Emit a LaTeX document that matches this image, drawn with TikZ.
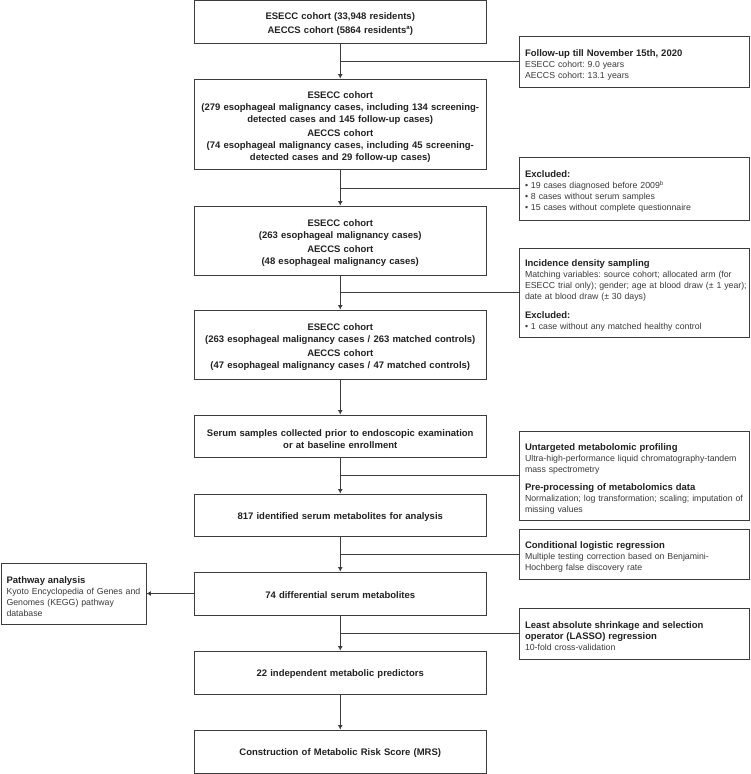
\documentclass[tikz,border=0pt]{standalone}
\usepackage{fontspec}
\setmainfont{Liberation Sans}
\usetikzlibrary{arrows.meta}
\definecolor{linec}{HTML}{3C3C3C}
\definecolor{txtb}{HTML}{222222}
\definecolor{txtr}{HTML}{3A3A3A}
\tikzset{
  bxbase/.style={draw=linec,line width=0.9pt,fill=white,inner sep=0pt,align=center,text=txtb,
    text width=288pt,minimum width=292pt,
    font=\fontsize{9.5}{12}\selectfont\bfseries},
  bx/.style={bxbase,execute at begin node={\frenchspacing\rule{0pt}{12.5pt}}},
  bxtop/.style={bxbase,execute at begin node={\frenchspacing\rule{0pt}{11pt}}},
  bxone/.style={bxbase,execute at begin node={\frenchspacing\rule{0pt}{10.5pt}}},
  sidebx/.style={draw=linec,line width=0.9pt,fill=white,inner sep=0pt,align=left,text=txtr,
    font=\fontsize{8.75}{11}\selectfont,text width=#1,
    execute at begin node={\frenchspacing\hyphenpenalty=10000\rule{0pt}{13pt}}},
  conn/.style={draw=linec,line width=0.9pt,-{Latex[length=4.5pt,width=5pt]}},
  link/.style={draw=linec,line width=0.9pt}
}
\newcommand{\hd}[1]{{\fontsize{9.5}{11}\selectfont\bfseries\color{txtb}#1}}
\newcommand{\supmark}[1]{\raisebox{3.2pt}{\fontsize{6}{6}\selectfont #1}}
\begin{document}
\begin{tikzpicture}[x=1pt,y=-1pt]
\useasboundingbox (0,0) rectangle (750,774);
\fill[white] (0,0) rectangle (750,774);
% main column
\node[bxtop,minimum height=43pt] (b1) at (340.25,21.5) {ESECC cohort (33,948 residents)\\[2pt]AECCS cohort (5864 residents\supmark{a})};
\node[bx,minimum height=90pt] (b2) at (340.25,124) {ESECC cohort\\(279 esophageal malignancy cases, including 134 screening-\\detected cases and 145 follow-up cases)\\[2pt]AECCS cohort\\(74 esophageal malignancy cases, including 45 screening-\\detected cases and 29 follow-up cases)};
\node[bx,minimum height=69pt] (b3) at (340.25,240.5) {ESECC cohort\\(263 esophageal malignancy cases)\\[2pt]AECCS cohort\\(48 esophageal malignancy cases)};
\node[bx,minimum height=69pt] (b4) at (340.25,344.5) {ESECC cohort\\(263 esophageal malignancy cases / 263 matched controls)\\[2pt]AECCS cohort\\(47 esophageal malignancy cases / 47 matched controls)};
\node[bx,minimum height=42pt] (b5) at (340.25,436) {Serum samples collected prior to endoscopic examination\\or at baseline enrollment};
\node[bxone,minimum height=42pt] (b6) at (340.25,515) {817 identified serum metabolites for analysis};
\node[bxone,minimum height=43pt] (b7) at (340.25,593.5) {74 differential serum metabolites};
\node[bxone,minimum height=43pt] (b8) at (340.25,672.5) {22 independent metabolic predictors};
\node[bxone,minimum height=43pt] (b9) at (340.25,751.5) {Construction of Metabolic Risk Score (MRS)};
% side boxes
\node[sidebx=219pt,minimum width=230pt,minimum height=50.5pt] (s1) at (634.5,61.75) {\hd{Follow-up till November 15th, 2020}\\ESECC cohort: 9.0 years\\AECCS cohort: 13.1 years};
\node[sidebx=219pt,minimum width=230pt,minimum height=63pt] (s2) at (634.5,188.5) {\hd{Excluded:}\\• 19 cases diagnosed before 2009\supmark{b}\\• 8 cases without serum samples\\• 15 cases without complete questionnaire};
\node[sidebx=219pt,minimum width=230pt,minimum height=89pt] (s3) at (634.5,292.5) {\hd{Incidence density sampling}\\Matching variables: source cohort; allocated arm (for\\\mbox{ESECC trial only); gender; age at blood draw (± 1 year);}\\date at blood draw (± 30 days)\\[8pt]\hd{Excluded:}\\• 1 case without any matched healthy control};
\node[sidebx=219pt,minimum width=230pt,minimum height=89pt] (s4) at (634.5,475.5) {\hd{Untargeted metabolomic profiling}\\Ultra-high-performance liquid chromatography-tandem\\mass spectrometry\\[7pt]\hd{Pre-processing of metabolomics data}\\\mbox{Normalization; log transformation; scaling; imputation of}\\missing values};
\node[sidebx=219pt,minimum width=230pt,minimum height=50pt] (s5) at (634.5,554) {\hd{Conditional logistic regression}\\Multiple testing correction based on Benjamini-\\Hochberg false discovery rate};
\node[sidebx=219pt,minimum width=230pt,minimum height=51pt] (s6) at (634.5,633.5) {\hd{Least absolute shrinkage and selection}\\\hd{operator (LASSO) regression}\\10-fold cross-validation};
\node[sidebx=134pt,minimum width=145pt,minimum height=61pt] (p) at (73.5,593.5) {\hd{Pathway analysis}\\\mbox{Kyoto Encyclopedia of Genes and}\\Genomes (KEGG) pathway\\database};
% connectors
\foreach \a/\b in {b1/b2,b2/b3,b3/b4,b4/b5,b5/b6,b6/b7,b7/b8,b8/b9}{\draw[conn] (\a) -- (\b);}
\draw[link] (s1.west) -- (s1.west -| b1.south);
\draw[link] (s2.west) -- (s2.west -| b2.south);
\draw[link] (s3.west) -- (s3.west -| b3.south);
\draw[link] (s4.west) -- (s4.west -| b5.south);
\draw[link] (s5.west) -- (s5.west -| b6.south);
\draw[link] (s6.west) -- (s6.west -| b7.south);
\draw[conn] (b7.west) -- (p.east);
\end{tikzpicture}
\end{document}
